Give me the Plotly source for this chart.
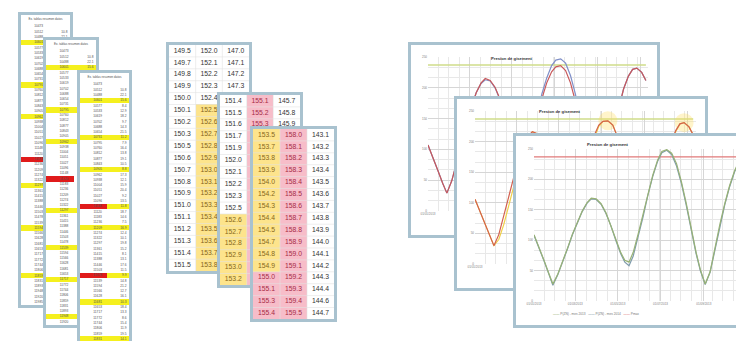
import plotly.graph_objects as go

W, H = 744, 341

# ---------------- data ----------------
SHEET_TITLE = "Ex. tablas resumen datos"
SHEET_COL1 = ("10473 10512 10488 10601 10577 10533 10619 10702 10688 10654 10731 10795 10760 "
              "10812 10877 10843 10905 10962 10938 11004 11051 11027 11096 11148 11120 11183 "
              "11236 11209 11274 11322 11297 11361 11415 11388 11446 11503 11478 11539 11594 "
              "11566 11628 11681 11653 11717 11772 11744 11806 11859 11831 11893 11948 11920 11985").split()
SHEET_COL2 = [""] + ("10.8 22.1 15.6 8.4 12.9 18.2 9.7 14.3 21.5 11.2 7.9 16.4 13.8 19.1 10.5 8.8 "
                     "17.3 12.1 15.9 20.4 9.2 13.5 11.8 18.7 14.6 7.5 16.9 12.4 10.1 19.8 15.2 8.1 "
                     "13.1 17.6 11.5 9.9 14.8 21.2 12.7 16.1 10.3 18.4 13.3 8.6 15.4 11.9 19.5 14.1 "
                     "9.4 17.8 12.2 16.6").split()
SHEET_A_ROWS, SHEET_B_ROWS, SHEET_C_ROWS = 53, 52, 49
SHEET_A_YELLOW = [3, 11, 17, 30, 38, 47]
SHEET_A_RED = [25]
SHEET_B_YELLOW = [3, 11, 17, 30, 37, 43, 50]
SHEET_B_RED = [24]
SHEET_C_YELLOW = [3, 10, 16, 23, 27, 36, 41, 48]
SHEET_C_RED = [23, 36]

T1_COL1 = ["149.5", "149.7", "149.8", "149.9", "150.0", "150.1", "150.2", "150.3", "150.5", "150.6",
           "150.7", "150.8", "150.9", "151.0", "151.1", "151.2", "151.3", "151.4", "151.5"]
T1_COL2 = ["152.0", "152.1", "152.2", "152.3", "152.4", "152.5", "152.6", "152.7", "152.8", "152.9",
           "153.0", "153.1", "153.2", "153.3", "153.4", "153.5", "153.6", "153.7", "153.8"]
T1_COL3 = ["147.0", "147.1", "147.2", "147.3", "147.4", "147.5", "147.6", "147.7", "147.8", "147.9",
           "148.0", "148.1", "148.2", "148.3", "148.4", "148.5", "148.6", "148.7", "148.8"]
T1_FILL = [["w"] * 19, ["w"] * 5 + ["y"] * 14, ["w"] * 19]

T2_COL1 = ["151.4", "151.5", "151.6", "151.7", "151.9", "152.0", "152.1", "152.2", "152.3", "152.5",
           "152.6", "152.7", "152.8", "152.9", "153.0", "153.2"]
T2_COL2 = ["155.1", "155.2", "155.3", "155.4", "155.5", "155.6", "155.7", "155.8", "155.9", "156.0",
           "156.1", "156.2", "156.3", "156.4", "156.5", "156.6"]
T2_COL3 = ["145.7", "145.8", "145.9", "146.0", "146.1", "146.2", "146.3", "146.4", "146.5", "146.6",
           "146.7", "146.8", "146.9", "147.0", "147.1", "147.2"]
T2_FILL = [["w"] * 10 + ["y"] * 6, ["p"] * 16, ["w"] * 16]

T3_COL1 = ["153.5", "153.7", "153.8", "153.9", "154.0", "154.2", "154.3", "154.4", "154.5", "154.7",
           "154.8", "154.9", "155.0", "155.1", "155.3", "155.4"]
T3_COL2 = ["158.0", "158.1", "158.2", "158.3", "158.4", "158.5", "158.6", "158.7", "158.8", "158.9",
           "159.0", "159.1", "159.2", "159.3", "159.4", "159.5"]
T3_COL3 = ["143.1", "143.2", "143.3", "143.4", "143.5", "143.6", "143.7", "143.8", "143.9", "144.0",
           "144.1", "144.2", "144.3", "144.4", "144.6", "144.7"]
T3_FILL = [["y"] * 12 + ["p"] * 4, ["p"] * 16, ["w"] * 16]

CHART_TITLE = "Presion de gisement"
DATES = ["2013-01-01", "2013-01-08", "2013-01-15", "2013-01-22", "2013-01-28", "2013-02-04", "2013-02-11",
         "2013-02-18", "2013-02-25", "2013-03-04", "2013-03-11", "2013-03-18", "2013-03-24", "2013-03-31",
         "2013-04-07", "2013-04-14", "2013-04-21", "2013-04-28", "2013-05-05", "2013-05-11", "2013-05-17",
         "2013-05-23", "2013-05-30", "2013-06-06", "2013-06-13", "2013-06-20", "2013-06-27", "2013-07-03",
         "2013-07-10", "2013-07-17", "2013-07-24", "2013-07-31", "2013-08-07", "2013-08-14", "2013-08-21",
         "2013-08-27", "2013-09-03", "2013-09-10", "2013-09-17", "2013-09-24", "2013-10-01", "2013-10-08",
         "2013-10-15", "2013-10-21", "2013-10-27", "2013-11-03", "2013-11-09"]
X_TICKS = ["2013-01-01", "2013-03-01", "2013-05-01", "2013-07-01", "2013-09-01", "2013-11-01"]
X_TICK_TEXT = ["01/01/2013", "01/03/2013", "01/05/2013", "01/07/2013", "01/09/2013", "01/11/2013"]
P1_RED = [107, 88, 66, 45, 29, 49, 78, 110, 140, 168, 192, 208, 215, 212, 201, 182, 155, 124, 94, 72,
          62, 76, 108, 145, 182, 208, 226, 234, 236, 228, 208, 178, 142, 105, 72, 46, 31, 50, 88, 128,
          166, 198, 219, 230, 232, 225, 212]
P1_BLUE = [107, 88, 66, 45, 29, 49, 78, 110, 140, 168, 192, 207, 213, 211, 200, 181, 154, 123, 93, 71,
           61, 77, 112, 152, 190, 216, 236, 245, 247, 240, 220, 190, 150, 110, 74, 47, 31, 50, 88, 128,
           166, 198, 219, 230, 232, 225, 212]
P2_RED = [106, 86, 64, 44, 30, 48, 77, 109, 140, 168, 193, 209, 216, 213, 202, 183, 156, 125, 95, 73,
          63, 77, 109, 146, 183, 209, 227, 233, 234, 227, 207, 177, 141, 104, 71, 46, 31, 50, 88, 128,
          165, 197, 218, 229, 231, 224, 211]
P2_YELLOW = [106, 86, 64, 44, 30, 40, 64, 94, 126, 156, 184, 204, 216, 213, 202, 183, 156, 125, 95, 73,
             63, 70, 98, 135, 172, 203, 225, 233, 234, 227, 207, 177, 141, 104, 71, 46, 31, 44, 78, 118,
             157, 192, 216, 229, 231, 224, 211]
P3_A = [109, 90, 68, 46, 28, 44, 64, 87, 110, 130, 148, 162, 169, 168, 160, 145, 125, 102, 80, 67,
        64, 80, 110, 142, 177, 207, 232, 246, 249, 243, 226, 196, 160, 118, 80, 52, 28, 48, 88, 126,
        160, 190, 214, 229, 235, 230, 221]
P3_B = [108, 89, 67, 45, 26, 43, 63, 86, 109, 129, 147, 161, 168, 167, 159, 144, 124, 100, 78, 64,
        58, 74, 104, 138, 174, 205, 230, 244, 248, 241, 222, 193, 157, 115, 78, 50, 27, 47, 86, 124,
        158, 188, 212, 227, 233, 229, 220]
PMAX = 237
LEGEND_NAMES = ["P(ZN) - mes 2013", "P(ZN) - mes 2014", "Pmax"]

# ---------------- style ----------------
BORDER = "#a9c2cf"
FONT = "Liberation Sans"
CODE = {"w": 0, "Y": 1, "R": 2, "y": 3, "p": 4}
CSCALE = [[0, "#ffffff"], [0.125, "#ffffff"], [0.125, "#f5f01e"], [0.375, "#f5f01e"],
          [0.375, "#e01b1b"], [0.625, "#e01b1b"], [0.625, "#fde48c"], [0.875, "#fde48c"],
          [0.875, "#f7bdc9"], [1, "#f7bdc9"]]
TXT_COL = {"w": "#333333", "y": "#86661a", "p": "#a62a45"}

fig = go.Figure()
axes_layout = {}


def names(k):
    s = "" if k == 1 else str(k)
    return "x" + s, "y" + s, "xaxis" + s, "yaxis" + s


def box(x0, x1, y0, y1):
    return [max(0, x0 / W), min(1, x1 / W)], [max(0, 1 - y1 / H), min(1, 1 - y0 / H)]


BOX_AX = dict(showticklabels=False, showgrid=False, zeroline=False, ticks="", showline=True,
              mirror=True, linecolor=BORDER, linewidth=2.5, fixedrange=True, automargin=False)


def add_sheet(k, x0, x1, y0, nrows, yellow, red, col2_rows):
    # col2_rows: how many top rows of the right column are not covered by the next sheet
    rh = 5.3
    hdr = 9 / rh
    xa, ya, xk, yk = names(k)
    yedges = [0, hdr] + [hdr + i + 1 for i in range(nrows)]
    z = [[0, 0, 0]]
    for r in range(nrows):
        c = CODE["Y"] if r in yellow else 0
        z.append([CODE["R"], CODE["R"], c] if r in red else [c, c, c])
    fig.add_trace(go.Heatmap(z=z, x=[0, 0.15, 0.55, 1], y=yedges, colorscale=CSCALE, zmin=0, zmax=4,
                             showscale=False, hoverinfo="skip", xaxis=xa, yaxis=ya))
    centers = [hdr + r + 0.5 for r in range(nrows)]
    fig.add_trace(go.Scatter(x=[0.36] * nrows, y=centers, mode="text", text=SHEET_COL1[:nrows],
                             textfont=dict(size=3.2, color="#505050", family=FONT),
                             hoverinfo="skip", xaxis=xa, yaxis=ya))
    fig.add_trace(go.Scatter(x=[0.95] * col2_rows, y=centers[:col2_rows], mode="text",
                             text=SHEET_COL2[:col2_rows], textposition="middle left",
                             textfont=dict(size=3.2, color="#505050", family=FONT),
                             hoverinfo="skip", xaxis=xa, yaxis=ya))
    fig.add_trace(go.Scatter(x=[0.5], y=[hdr / 2], mode="text", text=[SHEET_TITLE],
                             textfont=dict(size=3.0, color="#505050", family=FONT),
                             hoverinfo="skip", xaxis=xa, yaxis=ya))
    dx, dy = box(x0, x1, y0, y0 + 9 + nrows * rh)
    axes_layout[xk] = dict(domain=dx, range=[0, 1], anchor=ya, **BOX_AX)
    axes_layout[yk] = dict(domain=dy, range=[hdr + nrows, 0], anchor=xa, **BOX_AX)


def add_table(k, x0, x1, y0, cols, fills, text_rows):
    # text_rows: per column, how many top rows are not covered by the next table
    rh = 11.9
    nrows, ncols = len(cols[0]), len(cols)
    xa, ya, xk, yk = names(k)
    z = [[CODE[fills[c][r]] for c in range(ncols)] for r in range(nrows)]
    fig.add_trace(go.Heatmap(z=z, x=list(range(ncols + 1)), y=list(range(nrows + 1)), colorscale=CSCALE,
                             zmin=0, zmax=4, showscale=False, hoverinfo="skip", xaxis=xa, yaxis=ya))
    gx, gy = [], []
    for r in range(1, nrows):
        gx += [0, ncols, None]
        gy += [r, r, None]
    for c in range(1, ncols):
        gx += [c, c, None]
        gy += [0, nrows, None]
    fig.add_trace(go.Scatter(x=gx, y=gy, mode="lines", line=dict(color="#e2e2e2", width=0.6),
                             hoverinfo="skip", xaxis=xa, yaxis=ya))
    for c in range(ncols):
        n = text_rows[c]
        fig.add_trace(go.Scatter(x=[c + 0.5] * n, y=[r + 0.5 for r in range(n)], mode="text",
                                 text=cols[c][:n],
                                 textfont=dict(size=6.8, family=FONT,
                                               color=[TXT_COL[f] for f in fills[c][:n]]),
                                 hoverinfo="skip", xaxis=xa, yaxis=ya))
    dx, dy = box(x0, x1, y0, y0 + nrows * rh)
    axes_layout[xk] = dict(domain=dx, range=[0, ncols], anchor=ya, **BOX_AX)
    axes_layout[yk] = dict(domain=dy, range=[nrows, 0], anchor=xa, **BOX_AX)


def add_panel(kbg, bg_box, plot_box, x_end, series, pmax_color, n_xlabels, halo=None):
    xa, ya, xk, yk = names(kbg)
    fig.add_trace(go.Heatmap(z=[[0]], x=[0, 1], y=[0, 1], colorscale=CSCALE, zmin=0, zmax=4,
                             showscale=False, hoverinfo="skip", xaxis=xa, yaxis=ya))
    dx, dy = box(*bg_box)
    axes_layout[xk] = dict(domain=dx, range=[0, 1], anchor=ya, **BOX_AX)
    axes_layout[yk] = dict(domain=dy, range=[0, 1], anchor=xa, **BOX_AX)

    xa, ya, xk, yk = names(kbg + 1)
    fig.add_trace(go.Scatter(x=[DATES[0], DATES[-1]], y=[PMAX, PMAX], mode="lines",
                             line=dict(color=pmax_color, width=1.4), hoverinfo="skip", xaxis=xa, yaxis=ya))
    if halo is not None:
        peaks = [i for i in range(1, len(halo) - 1)
                 if halo[i] >= halo[i - 1] and halo[i] >= halo[i + 1] and halo[i] > PMAX - 10]
        fig.add_trace(go.Scatter(x=[DATES[i] for i in peaks], y=[halo[i] for i in peaks], mode="markers",
                                 marker=dict(size=19, color="rgba(255,222,90,0.32)", line=dict(width=0)),
                                 hoverinfo="skip", xaxis=xa, yaxis=ya))
    for vals, col in series:
        fig.add_trace(go.Scatter(x=DATES, y=vals, mode="lines", line=dict(color=col, width=1.2),
                                 hoverinfo="skip", xaxis=xa, yaxis=ya))
    dx, dy = box(*plot_box)
    tf = dict(size=3, color="#808080", family=FONT)
    labels = [t if i < n_xlabels else "" for i, t in enumerate(X_TICK_TEXT)]
    axes_layout[xk] = dict(domain=dx, anchor=ya, type="date", range=[DATES[0], x_end],
                           tickvals=X_TICKS, ticktext=labels, tickfont=tf, ticks="", showgrid=True,
                           gridcolor="#d6d6d6", gridwidth=0.7, zeroline=False, showline=False,
                           automargin=False,
                           minor=dict(dtick=15 * 86400000, tick0=DATES[0], showgrid=True,
                                      gridcolor="#e8e8e8", gridwidth=0.6),
                           fixedrange=True)
    axes_layout[yk] = dict(domain=dy, anchor=xa, range=[0, 250], dtick=50, tickfont=tf, ticks="",
                           showgrid=True, gridcolor="#d6d6d6", gridwidth=0.7, zeroline=False,
                           showline=False, automargin=False,
                           minor=dict(dtick=50 / 3, showgrid=True, gridcolor="#e8e8e8", gridwidth=0.6),
                           fixedrange=True)


# chart panels (back to front)
add_panel(1, (403, 649, 37, 227), (420, 640, 49, 203), "2013-11-12",
          [(P1_BLUE, "#7f8fc8"), (P1_RED, "#c8585a")], "#cfdc8a", 1)
add_panel(3, (449, 697, 91, 280), (467, 688, 103, 256), "2013-11-13",
          [(P2_YELLOW, "#f0d048"), (P2_RED, "#d2604f")], "#cfdc8a", 1, halo=P2_RED)
add_panel(5, (508, 744, 128, 317), (526, 744, 141, 293), "2013-11-09",
          [(P3_B, "#7f9bab"), (P3_A, "#98b276")], "#e07878", 6)

# spreadsheet strips
add_sheet(7, 13, 62, 7, SHEET_A_ROWS, SHEET_A_YELLOW, SHEET_A_RED, 3)
add_sheet(8, 38, 88, 32, SHEET_B_ROWS, SHEET_B_YELLOW, SHEET_B_RED, 4)
add_sheet(9, 72, 121, 65, SHEET_C_ROWS, SHEET_C_YELLOW, SHEET_C_RED, SHEET_C_ROWS)

# value tables
add_table(10, 161, 241, 37, [T1_COL1, T1_COL2, T1_COL3], T1_FILL, [19, 19, 4])
add_table(11, 212, 292, 87, [T2_COL1, T2_COL2, T2_COL3], T2_FILL, [16, 3, 3])
add_table(12, 245, 326, 121, [T3_COL1, T3_COL2, T3_COL3], T3_FILL, [16, 16, 16])

annotations = []
for cx, cy in [(527, 46), (575, 99), (623, 136)]:
    annotations.append(dict(x=cx / W, y=1 - cy / H, xref="paper", yref="paper", showarrow=False,
                            text="<b>" + CHART_TITLE + "</b>", font=dict(size=4.2, color="#333", family=FONT)))
legend_cols = ["#98b276", "#7f9bab", "#e07878"]
legend_text = "   ".join("<span style='color:%s'><b>——</b></span> %s" % (c, n)
                         for c, n in zip(legend_cols, LEGEND_NAMES))
annotations.append(dict(x=633 / W, y=1 - 310 / H, xref="paper", yref="paper", showarrow=False,
                        text=legend_text, font=dict(size=3.2, color="#777", family=FONT)))

fig.update_layout(template="none", width=W, height=H, margin=dict(l=0, r=0, t=0, b=0, pad=0),
                  autosize=False, paper_bgcolor="white", plot_bgcolor="white", showlegend=False,
                  annotations=annotations, **axes_layout)
fig.write_html("out.html")
